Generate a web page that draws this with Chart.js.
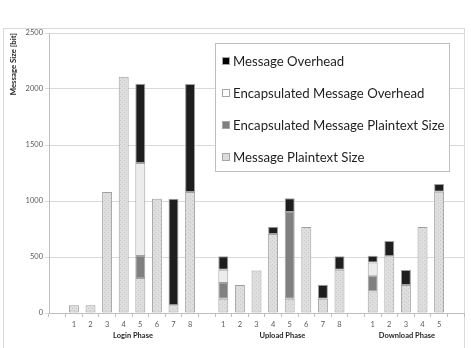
<!DOCTYPE html>
<html>
<head>
<meta charset="utf-8">
<script src="https://cdn.jsdelivr.net/npm/chart.js@4.4.1/dist/chart.umd.min.js"></script>
<style>
  html, body { margin: 0; padding: 0; background: #fff; }
  #wrap { width: 471px; height: 348px; position: relative; }
</style>
</head>
<body>
<div id="wrap"><canvas id="myChart"></canvas></div>
<script>
// categories: blank slots separate the three phases
const steps = ['', '1', '2', '3', '4', '5', '6', '7', '8',
               '', '1', '2', '3', '4', '5', '6', '7', '8',
               '', '1', '2', '3', '4', '5', ''];
const phases = [
  { name: 'Login Phase', from: 1, to: 8 },
  { name: 'Upload Phase', from: 10, to: 17 },
  { name: 'Download Phase', from: 19, to: 23 }
];

// values in bit
const plaintextSize = [null, 70, 70, 1080, 2110, 312, 1020, 70, 1080,
                       null, 128, 250, 380, 705, 128, 768, 128, 387,
                       null, 193, 506, 250, 768, 1083, null];
const encPlaintextSize = [null, null, null, null, null, 196, null, null, null,
                          null, 140, null, null, null, 774, null, null, null,
                          null, 140, null, null, null, null, null];
const encOverhead = [null, null, null, null, null, 831, null, null, null,
                     null, 119, null, null, null, null, null, null, null,
                     null, 119, null, null, null, null, null];
const msgOverhead = [null, null, null, null, null, 708, null, 950, 965,
                     null, 119, null, null, 65, 123, null, 125, 119,
                     null, 60, 137, 134, null, 69, null];

const FONT = 'Lato, "Open Sans", sans-serif';

// light dotted fill like the original plaintext bars
function makePattern() {
  const c = document.createElement('canvas');
  c.width = 4; c.height = 4;
  const g = c.getContext('2d');
  g.fillStyle = '#dedede';
  g.fillRect(0, 0, 4, 4);
  g.fillStyle = '#c9c9c9';
  g.fillRect(0, 0, 1, 1);
  g.fillRect(2, 2, 1, 1);
  return g.createPattern(c, 'repeat');
}
const dotted = makePattern();

const frame = {
  id: 'frame',
  beforeDraw(chart) {
    const ctx = chart.ctx;
    ctx.save();
    ctx.fillStyle = '#fff';
    ctx.fillRect(0, 0, chart.width, chart.height);
    ctx.strokeStyle = '#d9d9d9';
    ctx.lineWidth = 1;
    ctx.strokeRect(3.5, 28.5, 461, 340);
    ctx.restore();
  }
};

const phaseLabels = {
  id: 'phaseLabels',
  afterDraw(chart) {
    const ctx = chart.ctx;
    const x = chart.scales.x;
    ctx.save();
    ctx.font = 'bold 7.5px ' + FONT;
    ctx.fillStyle = '#262626';
    ctx.textAlign = 'center';
    ctx.textBaseline = 'middle';
    phases.forEach(p => {
      const cx = (x.getPixelForValue(p.from) + x.getPixelForValue(p.to)) / 2;
      ctx.fillText(p.name, cx + 1, 336);
    });
    ctx.restore();
  }
};

const boxLegend = {
  id: 'boxLegend',
  afterDraw(chart) {
    const ctx = chart.ctx;
    const items = chart.data.datasets.slice().reverse();
    ctx.save();
    ctx.fillStyle = '#fff';
    ctx.fillRect(215.5, 43.5, 234, 128);
    ctx.strokeStyle = '#bfbfbf';
    ctx.lineWidth = 1;
    ctx.strokeRect(215.5, 43.5, 234, 128);
    ctx.font = '13.2px ' + FONT;
    ctx.textBaseline = 'middle';
    items.forEach((ds, i) => {
      const y = 61 + i * 32;
      ctx.fillStyle = ds.legendColor;
      ctx.fillRect(222, y - 4, 8, 8);
      ctx.strokeStyle = '#a6a6a6';
      ctx.strokeRect(222.5, y - 3.5, 7, 7);
      ctx.fillStyle = '#1f1f1f';
      ctx.fillText(ds.label, 233, y + 0.5);
    });
    ctx.restore();
  }
};

const tickFont = { family: FONT, size: 7.5 };

new Chart(document.getElementById('myChart'), {
  type: 'bar',
  data: {
    labels: steps,
    datasets: [
      { label: 'Message Plaintext Size', data: plaintextSize, backgroundColor: dotted, legendColor: '#dcdcdc' },
      { label: 'Encapsulated Message Plaintext Size', data: encPlaintextSize, backgroundColor: '#808080', legendColor: '#808080' },
      { label: 'Encapsulated Message Overhead', data: encOverhead, backgroundColor: '#ececec', legendColor: '#ffffff' },
      { label: 'Message Overhead', data: msgOverhead, backgroundColor: '#1e1e1e', legendColor: '#000000' }
    ].map(d => Object.assign(d, {
      borderColor: '#a0a0a0',
      borderWidth: 1,
      borderSkipped: false,
      barPercentage: 0.6,
      categoryPercentage: 1
    }))
  },
  options: {
    responsive: true,
    maintainAspectRatio: false,
    animation: false,
    layout: { padding: { top: 33, right: 7, left: 0, bottom: 0 } },
    plugins: { legend: { display: false }, tooltip: { enabled: false } },
    scales: {
      x: {
        stacked: true,
        offset: true,
        grid: { drawOnChartArea: false, drawTicks: true, tickLength: 4, color: '#bfbfbf', offset: true },
        border: { color: '#bfbfbf' },
        ticks: { autoSkip: false, maxRotation: 0, color: '#595959', font: tickFont, padding: 3 },
        afterFit(s) { s.height = 35; }
      },
      y: {
        stacked: true,
        min: 0,
        max: 2500,
        grid: { color: '#d9d9d9', tickLength: 4 },
        border: { color: '#bfbfbf' },
        ticks: { stepSize: 500, color: '#595959', font: tickFont, padding: 2, callback: v => String(v) },
        title: {
          display: true,
          text: 'Message Size [bit]',
          align: 'end',
          color: '#262626',
          font: { family: FONT, size: 7.8, weight: 'bold' },
          padding: { top: 9, bottom: 0 }
        },
        afterFit(s) { s.width = 49; }
      }
    }
  },
  plugins: [frame, phaseLabels, boxLegend]
});
</script>
</body>
</html>
